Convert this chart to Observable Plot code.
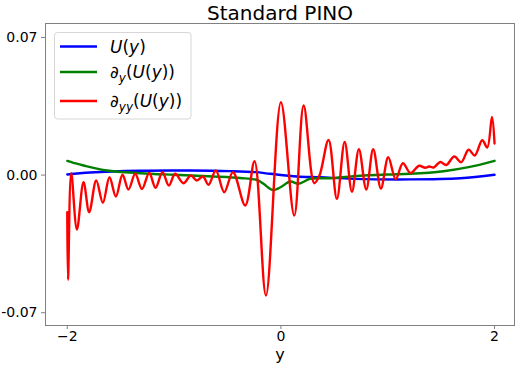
<!DOCTYPE html>
<html>
<head>
<meta charset="utf-8">
<script src="https://cdn.jsdelivr.net/npm/d3@7"></script>
<script src="https://cdn.jsdelivr.net/npm/@observablehq/plot@0.6"></script>
<style>
  html, body { margin: 0; padding: 0; background: #fff; }
  #chart { width: 518px; height: 366px; }
</style>
</head>
<body>
<div id="chart"></div>
<script>
// ---- data ----
const titleText = "Standard PINO";
const xLabel = "y";
const seriesNames = ["U", "dU", "ddU"];
const seriesColors = ["#0000ff", "#008000", "#ff0000"];

const blueX = [-2.0, -1.786, -1.317, -0.849, -0.475, -0.24, -0.1, 0.15, 0.368, 0.677, 1.21, 1.679, 2.0];
const blueY = [0.0003, 0.0013, 0.0022, 0.0023, 0.002, 0.0015, 0.00066, -0.0007, -0.0011, -0.0019, -0.0022, -0.0016, 0.00015];

const greenX = [-2.0, -1.942, -1.848, -1.629, -1.317, -1.006, -0.631, -0.381, -0.225, -0.166, -0.077, -0.007, 0.087, 0.165, 0.274, 0.462, 0.68, 0.993, 1.211, 1.522, 1.757, 2.0];
const greenY = [0.0072, 0.00626, 0.00488, 0.00234, 0.00097, 0.00015, -0.00071, -0.00148, -0.00249, -0.00427, -0.00758, -0.00631, -0.00326, -0.00443, -0.00188, -0.00158, -0.00056, 0.0003, 0.00066, 0.00198, 0.00402, 0.00727];

const redX = [-2.0, -1.993, -1.963, -1.91, -1.848, -1.795, -1.729, -1.667, -1.605, -1.545, -1.483, -1.427, -1.364, -1.301, -1.233, -1.174, -1.109, -1.049, -0.99, -0.912, -0.843, -0.787, -0.73, -0.678, -0.609, -0.531, -0.449, -0.334, -0.247, -0.14, 0.0, 0.125, 0.213, 0.312, 0.361, 0.446, 0.524, 0.597, 0.665, 0.73, 0.799, 0.864, 0.936, 1.005, 1.075, 1.142, 1.213, 1.293, 1.351, 1.389, 1.429, 1.492, 1.548, 1.623, 1.688, 1.757, 1.815, 1.885, 1.932, 1.976, 2.0];
const redY = [-0.01887, -0.05326, 0.00097, -0.02767, -0.00361, -0.01887, -0.00275, -0.01409, -0.00107, -0.01089, 0.00015, -0.00733, 0.00066, -0.00707, 0.00107, -0.00646, 0.00148, -0.00529, 0.00066, -0.00412, -0.0002, -0.00275, -0.00071, -0.00493, 0.00234, -0.0087, 0.00148, -0.01546, 0.00707, -0.06125, 0.03708, -0.02055, 0.03541, -0.00412, -0.0002, 0.01786, -0.01206, 0.01684, -0.0085, 0.01318, -0.00733, 0.01318, -0.00682, 0.00911, -0.00209, 0.00605, 0.00107, 0.00473, 0.00371, 0.00437, 0.00387, 0.00666, 0.00514, 0.00946, 0.00656, 0.01287, 0.00997, 0.01775, 0.01404, 0.02956, 0.01607];

const xTicks = [-2, 0, 2];
const xTickLabels = ["\u22122", "0", "2"];
const yTicks = [-0.07, 0, 0.07];
const yTickLabels = ["-0.07", "0.00", "0.07"];

// ---- build table ----
const toRows = (xs, ys, s) => xs.map((x, i) => ({x, y: ys[i], s}));
const rows = [
  ...toRows(blueX, blueY, seriesNames[0]),
  ...toRows(greenX, greenY, seriesNames[1]),
  ...toRows(redX, redY, seriesNames[2])
];

const font = "DejaVu Sans, sans-serif";
const spine = "#808080";

const svg = Plot.plot({
  width: 518,
  height: 366,
  marginLeft: 45,
  marginRight: 4,
  marginTop: 23,
  marginBottom: 41,
  style: {fontFamily: font, fontSize: "14px", color: "black", background: "white", overflow: "visible"},
  x: {domain: [-2.204, 2.187]},
  y: {domain: [-0.0765, 0.0771]},
  color: {domain: seriesNames, range: seriesColors},
  marks: [
    Plot.line(rows.filter(d => d.s === seriesNames[0]), {x: "x", y: "y", stroke: "s", strokeWidth: 2.4, curve: "catmull-rom"}),
    Plot.line(rows.filter(d => d.s === seriesNames[1]), {x: "x", y: "y", stroke: "s", strokeWidth: 2.4, curve: "catmull-rom"}),
    Plot.line(rows.filter(d => d.s === seriesNames[2]), {x: "x", y: "y", stroke: "s", strokeWidth: 2.4, curve: "catmull-rom"}),
    Plot.frame({stroke: spine, strokeWidth: 1}),
    Plot.axisY({ticks: yTicks, tickFormat: (d, i) => yTickLabels[i], tickSize: 4, tickPadding: 4, stroke: spine, fill: "black", fontSize: 14, label: null}),
    Plot.axisX({ticks: xTicks, tickFormat: (d, i) => xTickLabels[i], tickSize: 4, tickPadding: 2, stroke: spine, fill: "black", fontSize: 14, label: null}),
    Plot.text([titleText], {frameAnchor: "top", lineAnchor: "middle", dy: -10, fontSize: 20, fill: "black"}),
    Plot.text([xLabel], {frameAnchor: "bottom", lineAnchor: "middle", dy: 29, fontSize: 16, fill: "black"})
  ]
});

document.getElementById("chart").appendChild(svg);

// ---- legend (matplotlib-like, upper left) ----
const lg = d3.select(svg).append("g").attr("font-family", font).attr("font-size", 17).attr("text-anchor", "start");
lg.append("rect").attr("x", 54.5).attr("y", 32.5).attr("width", 136.5).attr("height", 86.5)
  .attr("rx", 3).attr("fill", "white").attr("fill-opacity", 0.8).attr("stroke", "#d6d6d6");
const rowY = [46.5, 72, 101];
const labels = [
  [["U", true], ["(", false], ["y", true], [")", false]],
  [["\u2202", true], ["y", true, "sub"], ["(", false], ["U", true], ["(", false], ["y", true], ["))", false]],
  [["\u2202", true], ["yy", true, "sub"], ["(", false], ["U", true], ["(", false], ["y", true], ["))", false]]
];
labels.forEach((parts, i) => {
  lg.append("line").attr("x1", 60).attr("x2", 97).attr("y1", rowY[i]).attr("y2", rowY[i])
    .attr("stroke", seriesColors[i]).attr("stroke-width", 2.4);
  const t = lg.append("text").attr("x", 110).attr("y", rowY[i] + 6).attr("fill", "black").attr("text-anchor", "start");
  let shifted = false;
  parts.forEach(([s, it, sub]) => {
    const sp = t.append("tspan").text(s);
    if (it) sp.attr("font-style", "italic");
    if (sub) { sp.attr("font-size", 12).attr("dy", 4); shifted = true; }
    else if (shifted) { sp.attr("dy", -4); shifted = false; }
  });
});
</script>
</body>
</html>
